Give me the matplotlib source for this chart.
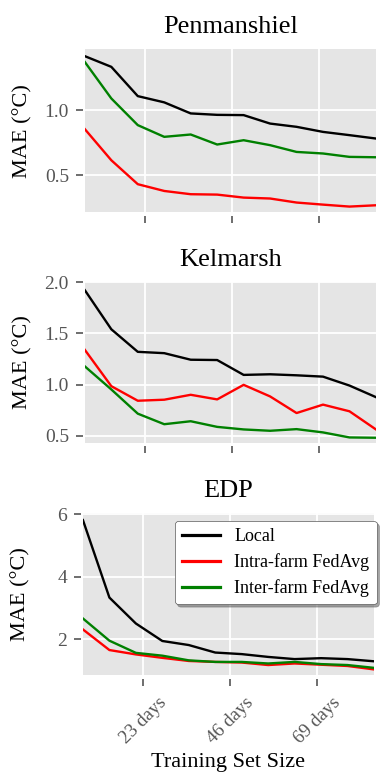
import numpy as np
import matplotlib
matplotlib.use('Agg')
import matplotlib.pyplot as plt

# Training set sizes (days) and MAE values per farm
days = [7, 14, 21, 28, 35, 42, 49, 56, 63, 70, 77, 84]
tick_days = [23, 46, 69]
tick_labels = ['23 days', '46 days', '69 days']

farms = ['Penmanshiel', 'Kelmarsh', 'EDP']

local_pen = [1.415, 1.333, 1.108, 1.06, 0.975, 0.964, 0.962, 0.897, 0.872, 0.833, 0.808, 0.782]
intra_pen = [0.854, 0.615, 0.431, 0.379, 0.354, 0.351, 0.328, 0.321, 0.29, 0.274, 0.259, 0.269]
inter_pen = [1.37, 1.09, 0.885, 0.795, 0.813, 0.736, 0.769, 0.731, 0.679, 0.667, 0.641, 0.638]

local_kel = [1.92, 1.539, 1.319, 1.306, 1.242, 1.239, 1.094, 1.10, 1.09, 1.077, 0.99, 0.877]
intra_kel = [1.338, 0.984, 0.842, 0.852, 0.90, 0.855, 0.997, 0.884, 0.722, 0.804, 0.739, 0.562]
inter_kel = [1.177, 0.952, 0.716, 0.613, 0.642, 0.587, 0.562, 0.549, 0.565, 0.533, 0.484, 0.481]

local_edp = [5.81, 3.33, 2.50, 1.94, 1.81, 1.57, 1.52, 1.43, 1.36, 1.39, 1.36, 1.29]
intra_edp = [2.31, 1.65, 1.51, 1.40, 1.30, 1.27, 1.25, 1.17, 1.22, 1.18, 1.14, 1.03]
inter_edp = [2.66, 1.95, 1.56, 1.47, 1.32, 1.27, 1.27, 1.22, 1.27, 1.20, 1.17, 1.08]

series = [
    (local_pen, intra_pen, inter_pen),
    (local_kel, intra_kel, inter_kel),
    (local_edp, intra_edp, inter_edp),
]
yticks = [[0.5, 1.0], [0.5, 1.0, 1.5, 2.0], [2, 4, 6]]
ylims = [(0.215, 1.47), (0.43, 2.0), (0.85, 6.04)]

plt.style.use('ggplot')
plt.rcParams['font.family'] = 'serif'
plt.rcParams['font.serif'] = ['Liberation Serif', 'DejaVu Serif']

fig = plt.figure(figsize=(3.84, 7.72), dpi=100)
boxes = [(0.221, 0.725, 0.758, 0.2115),
         (0.221, 0.4262, 0.758, 0.2085),
         (0.216, 0.1256, 0.758, 0.21)]

for i, (farm, box) in enumerate(zip(farms, boxes)):
    ax = fig.add_axes(box)
    local, intra, inter = series[i]
    ax.plot(days, local, color='black', lw=1.7, label='Local')
    ax.plot(days, intra, color='red', lw=1.7, label='Intra-farm FedAvg')
    ax.plot(days, inter, color='green', lw=1.7, label='Inter-farm FedAvg')
    ax.set_xlim(days[0], days[-1])
    ax.set_ylim(*ylims[i])
    ax.set_xticks(tick_days)
    ax.set_yticks(yticks[i])
    ax.grid(True, color='white', lw=1.3)
    for s in ax.spines.values():
        s.set_visible(False)
    ax.spines['bottom'].set_position(('outward', 2.5))
    ax.spines['left'].set_position(('outward', 1.5))
    ax.tick_params(axis='x', direction='out', length=5, width=1.2,
                   colors='#555555', labelsize=13.5, pad=6)
    ax.tick_params(axis='y', direction='out', length=5, width=1.2,
                   colors='#555555', labelsize=14, pad=5)
    ax.set_title(farm, fontsize=19, pad=11.5)
    ax.set_ylabel('MAE (°C)', fontsize=16, color='black')
    ax.yaxis.set_label_coords(-0.18, 0.5)
    if i < 2:
        ax.set_xticklabels([])
    else:
        ax.set_xticklabels(tick_labels, rotation=45, ha='center')
        ax.set_xlabel('Training Set Size', fontsize=16, color='black')
        ax.xaxis.set_label_coords(0.5, -0.48)
        leg = ax.legend(loc='upper right', bbox_to_anchor=(1.009, 0.951),
                        borderaxespad=0, fontsize=13, frameon=True, shadow=True,
                        facecolor='white', edgecolor='0.35', framealpha=1,
                        handlelength=2.1, labelspacing=0.45)
        for h in leg.get_lines():
            h.set_linewidth(2.3)

fig.savefig('out.png', dpi=100)
